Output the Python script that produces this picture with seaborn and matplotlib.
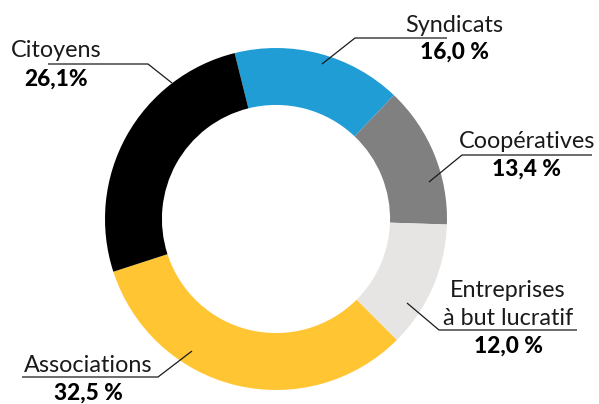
import matplotlib
matplotlib.use("Agg")
import matplotlib.pyplot as plt
import seaborn as sns

categories = ["Syndicats", "Coopératives", "Entreprises\nà but lucratif", "Associations", "Citoyens"]
values = [16.0, 13.4, 12.0, 32.5, 26.1]
value_labels = ["16,0 %", "13,4 %", "12,0 %", "32,5 %", "26,1%"]
colors = ["#219dd6", "#7f807f", "#e6e5e3", "#ffc533", "#000000"]

sns.set_theme(style="white")
plt.rcParams["font.family"] = ["Lato", "DejaVu Sans"]

W, H = 599, 404
fig = plt.figure(figsize=(W / 100, H / 100), dpi=100)

cx, cy, R = 276, 219, 171
ax = fig.add_axes([(cx - R) / W, (H - cy - R) / H, 2 * R / W, 2 * R / H])
ax.pie(values, colors=colors, startangle=104, counterclock=False, radius=1.0,
       wedgeprops=dict(width=0.333, linewidth=0))
ax.set_xlim(-1, 1)
ax.set_ylim(-1, 1)
ax.set_aspect("equal")
ax.axis("off")

ov = fig.add_axes([0, 0, 1, 1])
ov.set_xlim(0, W)
ov.set_ylim(H, 0)
ov.axis("off")
ov.patch.set_alpha(0)

# label layout: (center x, last name-line baseline, value baseline, leader polyline)
layout = [
    (454, 32, 59, [(447, 38), (355, 38), (322, 64)]),
    (527, 148, 176, [(592, 155), (462, 155), (429, 182)]),
    (508, 325, 353, [(577, 330), (439, 330), (407, 303)]),
    (88, 372, 400, [(22, 377), (158, 377), (192, 351)]),
    (56, 57, 86, [(48, 64), (148, 64), (172, 83)]),
]

lc = "#1a1a1a"
line_gap = 28
for name, vl, (x, yb, yv, pts) in zip(categories, value_labels, layout):
    lines = name.split("\n")
    for i, ln in enumerate(lines):
        y = yb - (len(lines) - 1 - i) * line_gap
        ov.text(x, y, ln, ha="center", va="baseline", fontsize=16.8,
                color="#1a1a1a")
    ov.text(x, yv, vl, ha="center", va="baseline", fontsize=16.3,
            fontweight="black", color="#000000")
    xs, ys = zip(*pts)
    ov.plot(xs, ys, color=lc, lw=0.9, solid_capstyle="butt")

fig.savefig("out.png", dpi=100)
